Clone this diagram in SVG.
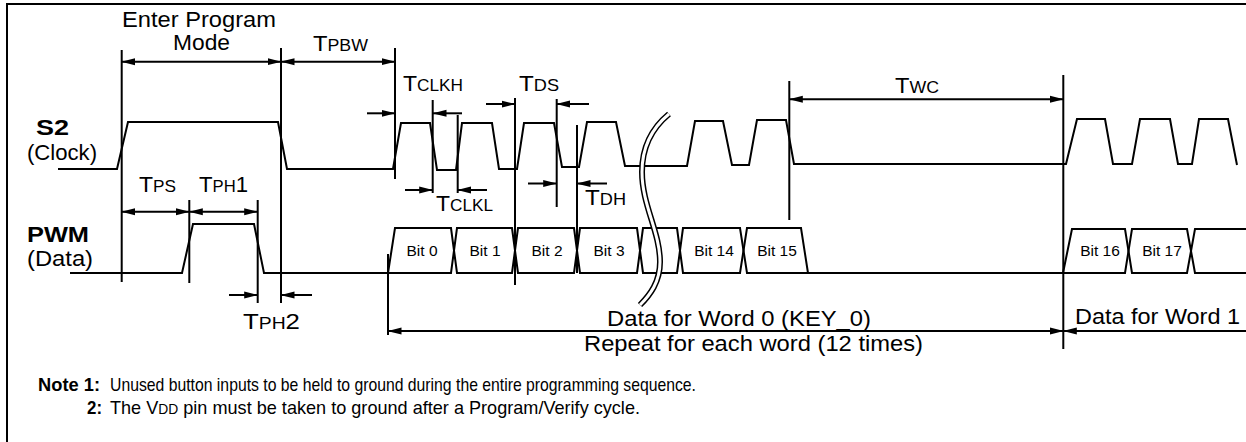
<svg xmlns="http://www.w3.org/2000/svg" width="1246" height="442" viewBox="0 0 1246 442">
<defs>
<style>
.ln{fill:none;stroke:#000;stroke-width:2;stroke-linejoin:miter}
.g{fill:none;stroke:#000;stroke-width:2}
.ar{fill:none;stroke:#000;stroke-width:2}
.t{font-family:"Liberation Sans",Arial,sans-serif;font-size:22px;fill:#000}
.b{font-family:"Liberation Sans",Arial,sans-serif;font-size:15.5px;fill:#000}
.sc{font-size:16.5px}
.bold{font-weight:bold}
.n{font-family:"Liberation Sans",Arial,sans-serif;font-size:19px;fill:#000}
</style>
<marker id="ah" markerUnits="userSpaceOnUse" markerWidth="14" markerHeight="8" viewBox="0 0 14 8" refX="13.5" refY="4" orient="auto-start-reverse"><path d="M0,0.5 L14,4 L0,7.5 z" fill="#000"/></marker>
</defs>
<rect width="1246" height="442" fill="#fff"/>
<g id="frame"><path class="ln" d="M7,442 L7,4 L1246,4" stroke-width="2.5"/></g>

<g id="clock-waveform">
<path class="ln" d="M58,169 L117,169 L128,122 L278,122 L287,169 L393,169 L401,123 L430,123 L437,170 L456,170 L462,123 L492,123 L499,169 L517,169 L524,123 L554,123 L562,167 L579,167 L587,122 L616,122 L625,166 L645,166"/>
<path class="ln" d="M645,166 L687,166 L695,121 L723,121 L732,165 L749,165 L757,120 L786,120 L794,164 L1066,164 L1077,119 L1105,119 L1113,164 L1132,164 L1140,119 L1170,119 L1178,164 L1192,164 L1199,119 L1228,119 L1237,165"/>
</g>

<g id="data-waveform">
<path class="ln" d="M70,273 L182,273 L193,224 L254,224 L264,273 L388,273"/>
<path class="ln" d="M388,273 L395,228 L451,228 L457,273 L512,273 L518,228 L574,228 L580,273 L637,273 L643,228 L677,228 L683,273 L740,273 L747,228 L801,228 L808,273"/>
<path class="ln" d="M388,273 L451,273 L457,228 L512,228 L518,273 L574,273 L580,228 L637,228 L643,273 L677,273 L683,228 L740,228 L747,273 L808,273 L1063,273"/>
<path class="ln" d="M1063,273 L1072,229 L1125,229 L1132,273 L1187,273 L1195,229 L1246,229"/>
<path class="ln" d="M1063,273 L1125,273 L1132,229 L1187,229 L1195,273 L1246,273"/>
</g>

<g id="break">
<path d="M669,114 C652,128 642,148 642,172 C642,205 660,232 660,262 C660,282 650,295 640,305" fill="none" stroke="#000" stroke-width="6"/>
<path d="M669,114 C652,128 642,148 642,172 C642,205 660,232 660,262 C660,282 650,295 640,305" fill="none" stroke="#fff" stroke-width="3"/>
</g>

<g id="guides">
<path class="g" d="M121.7,50 V282 M281,48 V303 M395,48 V179 M432.7,100 V193 M457.7,115 V193 M515,98 V285 M556.7,99 V207 M577,125 V273 M789.3,81 V220 M1063.3,75 V349 M189.3,200 V283 M257.7,200 V303 M388,254 V335"/>
</g>

<g id="connectors">
<line class="ar" x1="121.7" y1="61.7" x2="281" y2="61.7" marker-start="url(#ah)" marker-end="url(#ah)"/>
<line class="ar" x1="281" y1="61.7" x2="395" y2="61.7" marker-start="url(#ah)" marker-end="url(#ah)"/>
<line class="ar" x1="367" y1="113.3" x2="395" y2="113.3" marker-end="url(#ah)"/>
<line class="ar" x1="462" y1="113.3" x2="433" y2="113.3" marker-end="url(#ah)"/>
<line class="ar" x1="405" y1="190" x2="432.7" y2="190" marker-end="url(#ah)"/>
<line class="ar" x1="487" y1="190" x2="457.7" y2="190" marker-end="url(#ah)"/>
<line class="ar" x1="486" y1="104" x2="515" y2="104" marker-end="url(#ah)"/>
<line class="ar" x1="589" y1="104" x2="556.7" y2="104" marker-end="url(#ah)"/>
<line class="ar" x1="528" y1="183.5" x2="556.7" y2="183.5" marker-end="url(#ah)"/>
<line class="ar" x1="607" y1="183.5" x2="577" y2="183.5" marker-end="url(#ah)"/>
<line class="ar" x1="789.3" y1="99.3" x2="1063.3" y2="99.3" marker-start="url(#ah)" marker-end="url(#ah)"/>
<line class="ar" x1="121.7" y1="211.7" x2="189.3" y2="211.7" marker-start="url(#ah)" marker-end="url(#ah)"/>
<line class="ar" x1="189.3" y1="211.7" x2="257.7" y2="211.7" marker-start="url(#ah)" marker-end="url(#ah)"/>
<line class="ar" x1="229" y1="295" x2="257.7" y2="295" marker-end="url(#ah)"/>
<line class="ar" x1="312" y1="295" x2="281" y2="295" marker-end="url(#ah)"/>
<line class="ar" x1="388" y1="331" x2="1063.3" y2="331" marker-start="url(#ah)" marker-end="url(#ah)"/>
<line class="ar" x1="1246" y1="331" x2="1063.3" y2="331" marker-end="url(#ah)"/>
</g>

<g id="signal-labels">
<text class="t bold" x="36" y="135" textLength="33" lengthAdjust="spacingAndGlyphs">S2</text>
<text class="t" x="27" y="160" textLength="70" lengthAdjust="spacingAndGlyphs">(Clock)</text>
<text class="t bold" x="27" y="242" textLength="62" lengthAdjust="spacingAndGlyphs">PWM</text>
<text class="t" x="27" y="266" textLength="66" lengthAdjust="spacingAndGlyphs">(Data)</text>
</g>

<g id="timing-labels">
<text class="t" x="122" y="27" textLength="154" lengthAdjust="spacingAndGlyphs">Enter Program</text>
<text class="t" x="173" y="50" textLength="57" lengthAdjust="spacingAndGlyphs">Mode</text>
<text class="t" x="313" y="51" textLength="55" lengthAdjust="spacingAndGlyphs">T<tspan class="sc">PBW</tspan></text>
<text class="t" x="403" y="90.7" textLength="60" lengthAdjust="spacingAndGlyphs">T<tspan class="sc">CLKH</tspan></text>
<text class="t" x="519" y="90.7" textLength="40" lengthAdjust="spacingAndGlyphs">T<tspan class="sc">DS</tspan></text>
<text class="t" x="895" y="92.7" textLength="44" lengthAdjust="spacingAndGlyphs">T<tspan class="sc">WC</tspan></text>
<text class="t" x="436" y="210.5" textLength="57" lengthAdjust="spacingAndGlyphs">T<tspan class="sc">CLKL</tspan></text>
<text class="t" x="585" y="205" textLength="41" lengthAdjust="spacingAndGlyphs">T<tspan class="sc">DH</tspan></text>
<text class="t" x="139" y="192" textLength="37" lengthAdjust="spacingAndGlyphs">T<tspan class="sc">PS</tspan></text>
<text class="t" x="199" y="192" textLength="49" lengthAdjust="spacingAndGlyphs">T<tspan class="sc">PH</tspan>1</text>
<text class="t" x="243" y="329" textLength="57" lengthAdjust="spacingAndGlyphs">T<tspan class="sc">PH</tspan>2</text>
<text class="t" x="607" y="326" textLength="264" lengthAdjust="spacingAndGlyphs">Data for Word 0 (KEY_0)</text>
<text class="t" x="584" y="351" textLength="339" lengthAdjust="spacingAndGlyphs">Repeat for each word (12 times)</text>
<text class="t" x="1075" y="324" textLength="165" lengthAdjust="spacingAndGlyphs">Data for Word 1</text>
</g>

<g id="bit-labels" text-anchor="middle">
<text class="b" x="422" y="256">Bit 0</text>
<text class="b" x="485" y="256">Bit 1</text>
<text class="b" x="547" y="256">Bit 2</text>
<text class="b" x="609" y="256">Bit 3</text>
<text class="b" x="714" y="256">Bit 14</text>
<text class="b" x="777" y="256">Bit 15</text>
<text class="b" x="1100" y="256">Bit 16</text>
<text class="b" x="1162" y="256">Bit 17</text>
</g>

<g id="notes">
<text class="n bold" x="38" y="391" textLength="62" lengthAdjust="spacingAndGlyphs">Note 1:</text>
<text class="n" x="110" y="391" textLength="586" lengthAdjust="spacingAndGlyphs">Unused button inputs to be held to ground during the entire programming sequence.</text>
<text class="n bold" x="87" y="414" textLength="15" lengthAdjust="spacingAndGlyphs">2:</text>
<text class="n" x="110" y="414" textLength="530" lengthAdjust="spacingAndGlyphs">The V<tspan font-size="14.5px">DD</tspan> pin must be taken to ground after a Program/Verify cycle.</text>
</g>
</svg>
